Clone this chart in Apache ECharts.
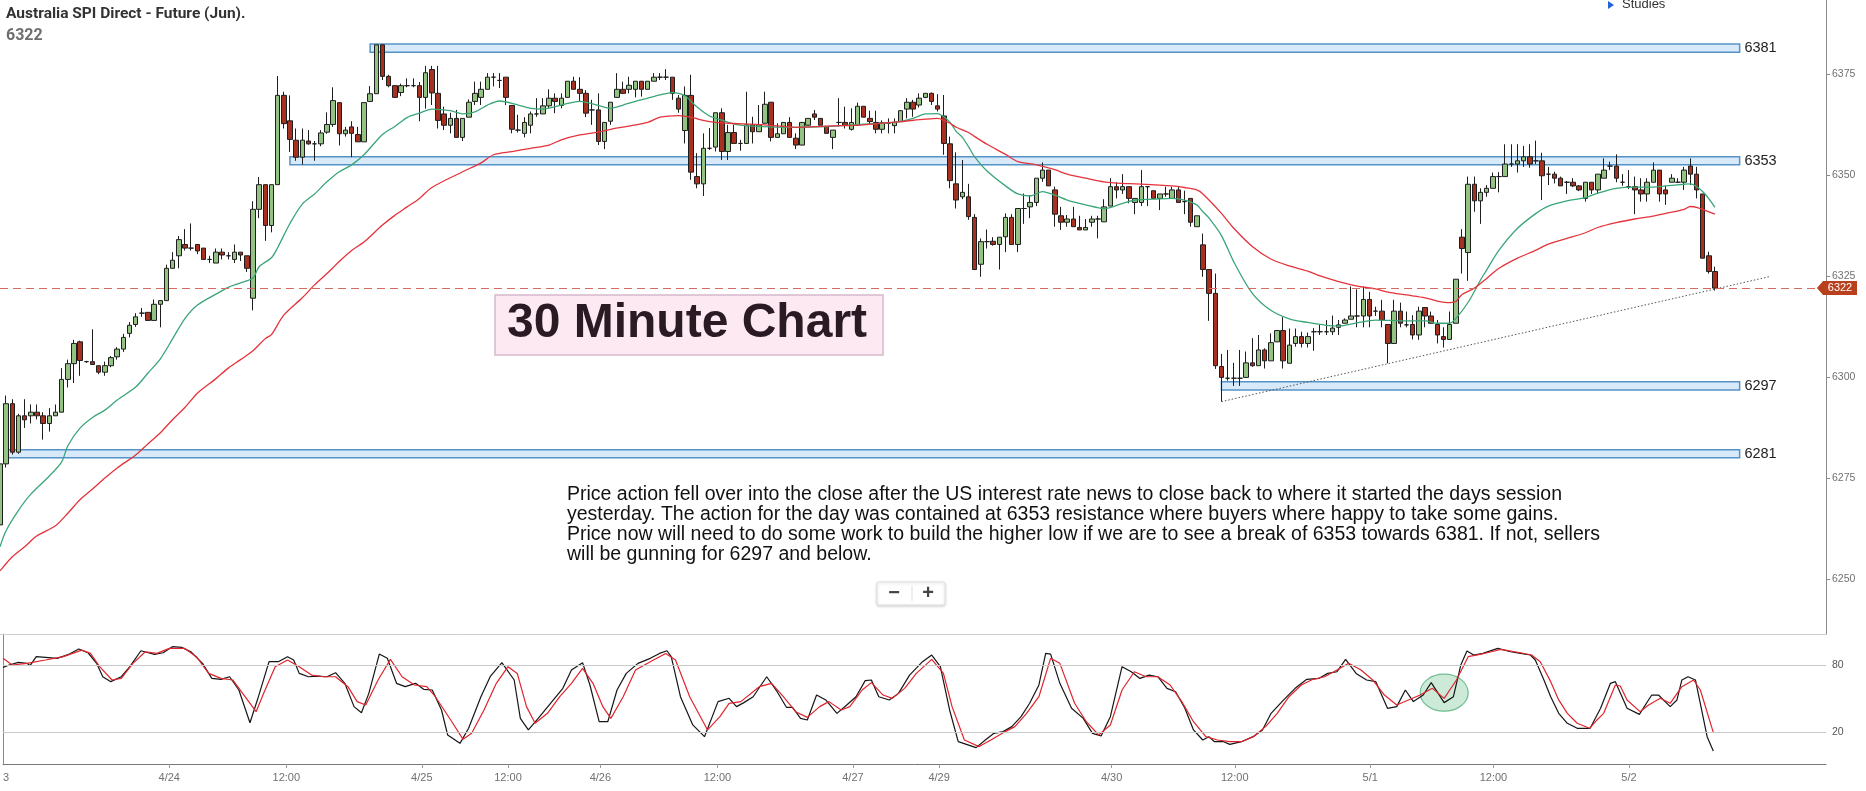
<!DOCTYPE html>
<html>
<head>
<meta charset="utf-8">
<title>Australia SPI Direct - Future (Jun) 30 Minute</title>
<script src="https://cdn.jsdelivr.net/npm/echarts@6.0.0/dist/echarts.min.js"></script>
<style>
  html, body { margin: 0; padding: 0; background: #fff; }
  #chart { width: 1866px; height: 791px; }
</style>
</head>
<body>
<div id="chart"></div>
<script>
// 30 分钟 K 线：[open, close, low, high]
const candles = [
  [6263.4,6278.5,6255.5,6281],[6278.5,6293.4,6277.6,6295.4],[6293.4,6281.4,6280.8,6294.5],[6281.4,6290.4,6281,6290.9],
  [6290.4,6289.4,6287.4,6294.5],[6290.4,6291.3,6288.5,6293.2],[6291.3,6290.4,6289.5,6293.2],[6290.4,6288.5,6284.5,6291.3],
  [6288.5,6290.4,6286.5,6292.3],[6290.4,6291.3,6290.4,6293.2],[6291.3,6299.4,6291.3,6302.2],[6299.4,6303.3,6297.4,6304.3],
  [6303.3,6308.3,6298.5,6309.2],[6308.7,6304.1,6300.3,6309],[6303.8,6303.8,6303.5,6304],[6303.8,6303.1,6303,6311.8],
  [6302.8,6301.2,6300.7,6302.8],[6301.2,6302.8,6300.3,6303.8],[6302.8,6304.8,6302.4,6305.2],[6305,6306.9,6304.3,6307.4],
  [6306.9,6309.8,6306.2,6310.7],[6310.8,6312.8,6309.8,6313.6],[6313,6314.9,6312.4,6315.8],[6315.8,6315.8,6314.9,6317.1],
  [6316,6314,6314,6316],[6314,6318,6314,6319.2],[6318,6318.9,6312.3,6318.9],[6318.9,6326.9,6318.9,6327.8],
  [6326.9,6328.9,6326.9,6330.9],[6330,6334,6326.9,6334.9],[6332.8,6331.9,6331.3,6336.6],[6331.9,6331.9,6331.3,6338],
  [6332.8,6331.2,6330.4,6332.8],[6331.9,6329.1,6329.1,6331.9],[6329.1,6329.1,6328.2,6330],[6328.2,6330.9,6328.2,6331.8],
  [6330.9,6330.2,6329.1,6331.8],[6330,6330,6329.1,6330.9],[6329.1,6330.9,6328.2,6332.8],[6330.9,6330.2,6328.7,6330.9],
  [6330,6326.9,6326,6330],[6319.5,6341.5,6316.5,6343.5],[6341.5,6347.6,6339.3,6349.5],[6347.6,6337.5,6333.7,6347.6],
  [6337.5,6347.6,6335.8,6347.6],[6347.6,6369.7,6347.6,6374.5],[6369.7,6362.7,6361.5,6370.6],[6363.4,6358.8,6355.7,6369.7],
  [6358.6,6354.4,6353.5,6361.5],[6354.4,6358.6,6352.6,6361.5],[6358.4,6357.7,6357.5,6361.1],[6357.7,6357.7,6353.5,6358.4],
  [6357.7,6360.4,6357.1,6361.1],[6360.6,6362.5,6360.2,6365.5],[6362.5,6368.4,6361.9,6371.7],[6367.9,6360.2,6357.3,6367.9],
  [6360.2,6361.1,6359.5,6361.9],[6361.9,6360.3,6354.4,6363.3],[6360,6358.2,6358.2,6361.9],[6358.2,6367.9,6358.2,6367.9],
  [6368.2,6370.1,6368.2,6372],[6370.1,6382.2,6370.1,6382.2],[6382.2,6374.4,6373.5,6382.2],[6374.4,6372.1,6371.7,6374.8],
  [6372.1,6369.2,6369.2,6372.1],[6370.4,6372.1,6369.5,6372.6],[6372.1,6372.1,6371.7,6373.9],[6372.1,6372.1,6371.7,6373.9],
  [6372.1,6369.2,6363.3,6373],[6369.2,6375.3,6366.4,6377],[6376.1,6370.3,6367.3,6377],[6370.2,6363.5,6361.5,6377],
  [6365.1,6362.3,6361.1,6366.9],[6362.3,6364,6360.3,6365.4],[6364,6359.3,6359.3,6366.1],[6359.3,6364,6358.4,6364],
  [6364.3,6368,6364.3,6368.7],[6368.2,6370.2,6367.3,6373.1],[6369.2,6371.2,6367.3,6373.1],[6371.2,6374.2,6371.2,6375.2],
  [6374.2,6374.2,6371.9,6375.2],[6373.4,6373.4,6371.5,6375.2],[6374.2,6369.2,6367.3,6374.2],[6367.2,6361.3,6360.3,6367.2],
  [6361.1,6361.1,6360.5,6364.9],[6360.3,6363,6359.3,6364.3],[6362.3,6365.1,6360.3,6365.7],[6365.1,6365.1,6364.4,6369],
  [6365.1,6367.1,6365.1,6369],[6367.1,6369,6366.5,6371.2],[6369,6368.2,6365.3,6370.2],[6367.2,6369,6366.5,6370.2],
  [6369.2,6373.2,6369.2,6373.2],[6373.2,6371.2,6371.2,6374.3],[6371.2,6370.2,6368.2,6374.2],[6370.2,6365.3,6364.3,6371],
  [6366.1,6366.1,6362.4,6368.6],[6366.1,6358.3,6357.4,6370.2],[6358.3,6363,6356.4,6363],[6363.3,6368,6362.4,6368],
  [6369.2,6371.2,6369.2,6375.2],[6371.2,6370.2,6370,6373.1],[6371.2,6372.2,6370.2,6374.3],[6371.2,6373.2,6369.2,6373.2],
  [6373.2,6371.2,6369.4,6373.2],[6371.2,6373.2,6371.2,6373.2],[6373.2,6374.2,6373.2,6375.2],[6374.2,6374.2,6373.5,6375.2],
  [6374.2,6374.2,6373.5,6376.2],[6374.2,6370.2,6368.6,6374.2],[6369,6366.3,6365.4,6369.8],[6361,6369.7,6357.8,6371.9],
  [6369.7,6350.7,6348.8,6374.8],[6349.6,6347.8,6346.7,6355.4],[6347.8,6356.6,6344.8,6360.3],[6356.6,6356.6,6356.2,6361.6],
  [6356.9,6365.4,6355.8,6365.4],[6365.4,6355.8,6353.7,6366.5],[6355.8,6360.5,6353.7,6362.4],[6360.5,6357.8,6357.8,6362.4],
  [6357.8,6357.8,6356,6358.7],[6357.8,6362.4,6357.8,6370.6],[6362.4,6360.7,6357.8,6364.4],[6360.7,6362.4,6360.7,6367.3],
  [6362.8,6367.5,6362.8,6370.6],[6368,6359.3,6358.3,6368],[6359.3,6360.2,6359.3,6362.8],[6360.2,6363,6360.2,6363],
  [6363,6359.3,6359.3,6364.3],[6359.1,6357.4,6356.4,6360.3],[6357.4,6363,6357.4,6363],[6362.3,6364,6362.3,6364],
  [6365.1,6364.3,6363.6,6366.1],[6364,6362.3,6362.3,6364],[6362,6360.3,6360.3,6362],[6359.3,6361.1,6356.4,6361.1],
  [6363,6363,6362,6369],[6363,6362.3,6361.5,6366.9],[6361.3,6363,6361,6366.5],[6362.3,6367,6362.3,6367.9],
  [6367,6364.3,6364.3,6367],[6364,6363.2,6362.5,6365.9],[6363,6361.3,6360.3,6365.9],[6361.3,6362.9,6360.3,6363.5],
  [6362.8,6362.8,6360.3,6364],[6362.2,6363,6360.3,6364],[6363.2,6365.9,6363.2,6366],[6366.3,6368,6364,6369],
  [6368,6366.3,6364.4,6368.6],[6367.3,6369,6366.7,6370.2],[6369.2,6370.2,6369,6370.2],[6370.2,6368.2,6367.3,6370.4],
  [6367.1,6366.3,6365.7,6370],[6364.6,6357.8,6355,6369.8],[6357.7,6348.6,6346.7,6359.5],[6347.8,6343.8,6341.7,6355.6],
  [6344.6,6345.7,6344,6353.7],[6344.6,6339.7,6338.9,6347.8],[6339.5,6326.6,6326.5,6340.3],[6327.9,6333.5,6324.8,6334.3],
  [6333.5,6333.5,6331.8,6336.5],[6333.6,6332.8,6332.5,6334.6],[6332.8,6334.6,6326.6,6334.6],[6334.7,6339.5,6330.9,6340.5],
  [6339.5,6332.8,6332.8,6340.3],[6332.8,6341.7,6330.9,6341.7],[6341.7,6341.7,6337.9,6345.4],[6342.1,6343.2,6339.3,6345],
  [6343.2,6349.2,6342.3,6349.2],[6349.2,6351.2,6348.3,6353.1],[6351.2,6347.3,6347.3,6351.2],[6346.3,6340.3,6337.2,6347.1],
  [6339.9,6338.3,6336.4,6342.1],[6338.3,6339.1,6337.2,6340.1],[6339.1,6337.2,6337.2,6342.1],[6337,6336.4,6336.4,6339.9],
  [6336.4,6337,6336.4,6339.1],[6338.3,6339.1,6337.2,6339.9],[6339.1,6339.1,6334.3,6339.9],[6338.4,6342.1,6338.4,6344],
  [6342.3,6347.1,6342.3,6349.2],[6347.1,6346.3,6344.2,6348.2],[6346.3,6347.1,6345.3,6350.2],[6347.1,6344.2,6343,6347.1],
  [6343.2,6344.2,6340.3,6344.2],[6343.2,6347.1,6342.3,6351.2],[6347.1,6347.1,6342.3,6347.1],[6346.1,6344.2,6344.2,6346.1],
  [6344.2,6345.3,6341.3,6345.3],[6345.3,6345.3,6344.6,6347.1],[6344.2,6346.3,6344.2,6347.1],[6346.3,6343.2,6343.2,6347.1],
  [6343.4,6343.4,6340.3,6346.1],[6344.2,6338.3,6337.2,6344.2],[6337.2,6339.9,6337.2,6339.9],[6332.7,6326.6,6324.8,6335.5],
  [6326.6,6320.7,6313.9,6326.6],[6320.7,6302.8,6302,6325.6],[6302.6,6299.9,6293.9,6305.7],[6299.7,6299.7,6299.1,6306.7],
  [6299.7,6299.7,6297.8,6303.5],[6299.7,6299.7,6297.8,6306.7],[6299.9,6303.5,6299.9,6306.3],[6303.5,6302.8,6302.5,6309.6],
  [6302.8,6306.7,6302.8,6310.4],[6306.7,6304,6302.1,6307.1],[6304,6308.5,6304,6310.8],[6308.7,6311.5,6308.7,6311.5],
  [6311.5,6304,6302.1,6314.8],[6303.4,6307.9,6303.4,6312],[6308.3,6310,6307.5,6312],[6310,6308.3,6307.3,6311.2],
  [6308.3,6310,6307.3,6311],[6311.2,6311.2,6306.5,6312.1],[6311.2,6311.2,6310.4,6312.9],[6311.2,6311.2,6310.4,6314.1],
  [6311.2,6312.1,6310.4,6315.2],[6312.3,6312.9,6310.4,6314.1],[6313.3,6314.1,6313.3,6314.5],[6314.3,6315.1,6314.3,6322.4],
  [6315.1,6315.1,6312.3,6321.7],[6315.1,6319.2,6312.3,6322.4],[6319.2,6315.1,6312.3,6321.1],[6316.3,6316.3,6315.1,6317.4],
  [6316.3,6314.1,6312.3,6319.1],[6313,6308.3,6303.4,6313],[6308.3,6316.3,6308.3,6319.1],[6316.3,6313.3,6312.3,6318.4],
  [6312.9,6312.9,6312.3,6316.2],[6313,6310.4,6309.3,6315.3],[6310.4,6316.3,6309.2,6317.4],[6317.2,6315.1,6312.3,6317.2],
  [6315.1,6313.3,6313.3,6316.2],[6313,6310.4,6308.3,6314.1],[6310,6309.3,6307.3,6312.3],[6309.3,6313,6309.3,6316.2],
  [6313.3,6324.2,6313.3,6324.2],[6334.6,6331.8,6325.6,6336.6],[6330.8,6347.7,6323.8,6349.6],[6347.7,6343.6,6340.9,6349.6],
  [6343.6,6345.7,6337.9,6346.7],[6345.7,6346.7,6344.6,6347.5],[6346.7,6349.6,6346.7,6350.6],[6349.6,6349.6,6345.7,6350.7],
  [6349.6,6352.7,6349.6,6357.6],[6352.7,6352.7,6352,6357.6],[6352.7,6353.5,6350.6,6357.6],[6353.5,6354.5,6352,6357.2],
  [6354.5,6352.7,6351.8,6357.6],[6353.5,6353.5,6352.7,6358.5],[6353.5,6349.8,6343.8,6355.5],[6350.2,6350.2,6347.5,6352],
  [6350.2,6349.2,6347.9,6350.8],[6349.2,6347.3,6347.3,6349.6],[6348.2,6348.2,6345.3,6348.5],[6348.2,6347.3,6347,6349.2],
  [6347.3,6346.3,6346,6347.5],[6344.2,6348.2,6343.4,6348.2],[6348.2,6346.3,6345.3,6348.2],[6346.3,6350.2,6345.3,6350.2],
  [6349.2,6351.2,6349.2,6354.1],[6352.2,6352.2,6351.2,6353.3],[6352.2,6349.2,6348.2,6355.1],[6348.2,6348.2,6347.3,6350.2],
  [6347.1,6347.1,6346.5,6351.2],[6347.1,6346.3,6340.3,6349.6],[6346.3,6345.3,6343.4,6349.2],[6345.3,6348.2,6343.4,6349.2],
  [6348.2,6351.2,6348.2,6353.1],[6351.2,6345.3,6343.4,6351.2],[6346.3,6345.3,6342.6,6347.3],[6348.2,6349.2,6348.2,6350.2],
  [6348.2,6348.2,6348,6349.2],[6348.2,6351.2,6346.3,6352],[6352.2,6350.2,6347.5,6354.1],[6350.2,6346.3,6344.2,6352],
  [6345.3,6329.4,6329.4,6345.3],[6330,6326.1,6325.6,6331],[6326.1,6322,6321.4,6327.3]
];

// 均线（绿：短期，红：长期）[bar, value]
const fastMa = [
  [0,6258],[1,6262],[3,6267],[5,6271],[8,6275.5],[10,6279],[11,6283],[13,6287.4],[15,6290],[17,6291.8],[19,6294.3],
  [22,6297.5],[24,6301],[26,6304.5],[28,6309.5],[30,6314.5],[32,6317.8],[35,6320.5],[37,6322.2],[39,6323.3],[41,6324.5],
  [42,6327.3],[44,6329.5],[45,6332],[47,6338],[49,6342.8],[51,6345.3],[53,6348.3],[55,6350.8],[57,6352.5],[59,6355],
  [62,6360],[64,6362],[66,6364.2],[68,6365.3],[70,6366.3],[73,6365.9],[75,6365.1],[77,6365.6],[79,6367.3],[81,6368.3],
  [84,6367.3],[86,6366.5],[88,6366.3],[90,6366.9],[92,6367.7],[94,6368.2],[97,6367.2],[99,6366.5],[101,6367.3],
  [103,6368.2],[105,6369],[107,6369.8],[109,6370.4],[111,6369.6],[113,6366.8],[115,6364.6],[117,6363.6],[119,6362.6],
  [122,6362.1],[129,6361.8],[134,6362],[140,6362.6],[145,6363],[148,6364],[150,6365.1],[152,6365.2],[153,6364.4],
  [154,6363],[155,6360.8],[156,6359.3],[157,6357],[158,6354.5],[160,6351],[163,6347.3],[165,6345.3],[167,6344.8],
  [169,6345.9],[171,6345],[173,6343.8],[176,6342.6],[179,6341.7],[182,6343],[184,6343.8],[187,6344],[190,6344.2],
  [192,6343.8],[194,6342.6],[195,6340.9],[196,6339.3],[198,6335],[200,6328.5],[203,6320.7],[206,6316.5],[209,6314.4],
  [212,6313.5],[215,6312.8],[217,6312.6],[220,6313.4],[223,6314.1],[228,6313.9],[231,6313.9],[233,6313.3],[235,6313.3],
  [236,6314.5],[238,6318.5],[240,6324],[241,6326.5],[243,6331.4],[246,6336.8],[249,6340.5],[251,6342.3],[254,6343.6],
  [257,6344.4],[259,6345.5],[262,6346.7],[265,6347],[268,6347],[270,6347.3],[273,6347.7],[274,6347.8],[276,6345.9],[278,6342]
];
const slowMa = [
  [0,6252],[2,6255.5],[4,6258],[6,6260.7],[9,6263.2],[11,6266.3],[13,6269.7],[15,6272.3],[17,6275],[19,6277.5],
  [22,6280.7],[24,6283.5],[26,6286.2],[28,6289.5],[30,6292.5],[32,6296],[35,6299.6],[37,6302.2],[39,6304.3],[41,6306.5],
  [43,6309.5],[44,6310.5],[46,6315.3],[49,6319.6],[51,6322.8],[53,6325.6],[55,6328.6],[57,6331.3],[59,6333.4],
  [62,6337.6],[64,6340],[66,6342.1],[68,6344.2],[70,6346.9],[75,6350.8],[78,6353],[80,6355],[83,6355.8],[86,6356.6],
  [89,6357.4],[91,6358.7],[94,6359.9],[97,6360.6],[99,6361.3],[102,6362.1],[105,6363],[107,6364.3],[110,6364.7],
  [112,6364.3],[114,6363.5],[116,6363],[118,6362.8],[124,6362.4],[129,6361.8],[134,6362.1],[140,6362.4],[146,6363.2],
  [150,6363.8],[152,6364],[153,6363.5],[154,6362.8],[155,6361.8],[157,6360.5],[158,6359.5],[160,6357.6],[163,6355.1],
  [165,6353.3],[168,6352.5],[171,6351.3],[173,6350.2],[176,6349.2],[179,6348.3],[182,6347.9],[184,6347.8],[190,6347.3],
  [192,6346.9],[194,6346.3],[195,6345.3],[198,6340.5],[200,6336.8],[203,6332.3],[206,6329.2],[209,6327.5],[212,6326.2],
  [214,6325],[217,6323.6],[220,6322.5],[223,6321.8],[225,6321],[228,6320.3],[231,6319.6],[233,6318.8],[235,6318.4],
  [236,6318.7],[237,6320.4],[239,6322],[241,6324.4],[243,6326.9],[246,6329.4],[249,6331.4],[251,6332.9],[254,6334.3],
  [257,6335.7],[259,6337],[262,6338.2],[265,6339.1],[268,6339.8],[270,6340.5],[273,6341.5],[274,6342.2],[275,6342],[278,6340.3]
];

// 随机指标 %K（黑）与 %D（红）[bar, value]
const stochK = [
  [0,77.9],[1,80],[2.5,82.4],[3.9,81.5],[4.4,79.4],[5.4,87.5],[6.9,86.9],[8.8,86],[10.8,89.8],[12.3,94.3],[13.8,91],
  [15.2,81.5],[16.2,69.5],[17.5,65.1],[19.2,69.5],[20.6,78.5],[22.4,92.8],[23.6,91],[24.6,89.5],[26,91],[27.5,96.4],
  [29,95.8],[30.5,91.9],[32.4,81.5],[33.9,68],[35.4,67.2],[36.8,69.5],[38.3,57.6],[40.1,28.3],[41.3,48.6],[43.2,83],
  [44.7,83],[46.2,87.5],[47.2,84.5],[48.1,72.5],[49.6,69.5],[51.1,70.1],[52.6,69.5],[54,73.1],[55.5,63.6],[57,42.7],
  [58.2,37.3],[59.4,54.6],[61.1,89.8],[62.4,86],[63.9,63.6],[65.3,60.6],[67,63.6],[68.3,58.2],[69.7,57.6],[71.2,39.7],
  [72.2,17.3],[74.2,9.8],[75.6,23.3],[77.6,51.6],[79.1,69.5],[81,82.1],[83,66.6],[84,32.2],[85.3,21.8],[86.9,32.2],
  [88.9,45.7],[90.9,59.1],[92.3,75.5],[94.1,82.1],[95.3,62.1],[96.8,29.2],[98.2,29.2],[99.7,57.6],[101.2,72.5],
  [103.1,81.5],[105.1,86],[106.6,90.4],[107.8,92.8],[108.5,87.5],[110,51.6],[112,26.3],[113.9,15.8],[116.1,47.2],
  [117.9,50.2],[119.1,42.7],[120.3,46.3],[121.8,51.6],[124,69.5],[125.7,56.1],[127.2,42.1],[128.2,42.1],[129.5,32.2],
  [130.6,30.7],[132.1,53.1],[133.6,48.7],[135.4,36.7],[137,44.2],[138.5,51.6],[140,66],[141,66.6],[142.2,51.6],
  [143.9,48.7],[145.4,54.6],[147.2,71],[149.3,83],[150.8,88.9],[152.2,78.5],[153.7,39.7],[155.1,11.3],[158,6],
  [159.5,12.8],[160.9,18.8],[162.4,20.3],[163.8,24.8],[165.3,33.7],[166.7,45.7],[168.2,62.1],[169.3,90.4],[170.1,89.8],
  [171.6,63.6],[173.5,41.2],[175.4,32.2],[176.9,18.8],[178.3,16.4],[179.8,33.7],[181.7,78.5],[183.2,74],[184.6,68],
  [186.1,71],[187.5,69.5],[189,59.1],[190.4,56.1],[191.9,41.2],[193.3,21.8],[194.8,12.8],[195.8,15.8],[196.7,11.3],
  [198.2,11.3],[199.2,8.9],[201.1,11.3],[203,15.8],[204.5,21.8],[205.9,36.7],[207.9,48.6],[209.8,59.1],[211.7,67.2],
  [213.7,68.1],[215.1,72.5],[216.6,74],[218,85.1],[219.7,72.5],[221.4,66.6],[222.9,65.1],[224.8,41.2],[226.3,42.7],
  [227.7,57.6],[229,47.2],[230.6,53.1],[231.9,64.2],[234,46.3],[235.5,51.6],[236.7,80],[237.7,92.5],[238.8,88.9],
  [240.3,90.4],[242.7,94.9],[244.8,91.9],[246.4,90.4],[248,89],[248.8,84.5],[250.2,66.6],[251.3,51.6],[252.6,36.7],
  [254,27.8],[255.6,23.3],[257.7,23.3],[259.4,41.2],[261,63.6],[261.8,65.1],[263.7,41.2],[265.7,35.8],[267.7,53.1],
  [268.8,53.1],[270.7,42.7],[271.8,48.7],[272.6,66.6],[273.6,69.5],[274.8,66.6],[276.7,15.8],[277.7,3]
];
const stochD = [
  [0,86],[1.5,80],[3.9,81.5],[6.9,84.5],[9.8,87.5],[12.8,93.4],[14.2,90.4],[15.7,78.5],[17.7,66.6],[19.2,68],
  [21.1,81.5],[23.1,91.9],[25,90.4],[27,94.9],[29.5,94.9],[31.4,87.5],[33.4,72.5],[35.4,68],[37.3,66.6],[39.3,51.6],
  [41.1,38.2],[42.2,53.1],[44.2,78.5],[46.2,84.5],[48.1,78.5],[50.1,71],[52.1,69.5],[54,69.5],[56,60.6],[57.5,47.2],
  [58.9,44.2],[60.9,66.6],[62.9,85.1],[64.8,69.5],[66.8,62.1],[68.8,60.6],[70.2,51.6],[72.7,30.7],[74.7,13.4],
  [76.1,18.8],[78.1,39.7],[80.1,63.6],[82,78.5],[83.5,72.5],[85,42.7],[86.4,27.8],[88.4,36.7],[90.4,51.6],[92.3,63.6],
  [94.1,77],[95.8,63.6],[97.4,42.7],[98.7,32.2],[100.7,51.6],[102.7,75.5],[105.1,83],[107.6,90.4],[109.2,84.5],
  [111.5,51.6],[114.4,21.8],[116.4,33.7],[117.9,45.7],[119.8,47.2],[122.8,60.6],[124.8,63.6],[126.7,51.6],[128.7,38.2],
  [130.6,33.1],[132.6,42.7],[134.1,47.2],[136.1,39.7],[137.5,42.7],[139.5,57.6],[141,64.2],[142.9,53.1],[144.4,50.1],
  [146.4,59.1],[148.3,72.5],[150.8,85.1],[152.7,72.5],[154.1,42.7],[156.1,12.8],[158.5,6.9],[160.4,12.8],[162.4,19.4],
  [164.3,24.8],[166.2,36.7],[168.2,51.6],[170.1,86],[171.6,81.5],[174,45.7],[175.9,29.2],[177.9,17.3],[179.8,26.3],
  [181.7,57.6],[183.7,74],[185.6,69.5],[187.5,69.5],[189.5,62.1],[191.4,47.2],[193.3,29.2],[195.3,15.8],[197.2,12.8],
  [199.2,11.3],[201.1,11.3],[203,15.8],[205,24.8],[206.9,36.7],[208.8,51.6],[210.8,62.1],[212.7,67.2],[214.6,69.5],
  [216.6,75.5],[218.5,81.5],[220.5,75.5],[222.4,66.6],[224.3,53.1],[226.3,44.2],[228.2,48.7],[230.1,53.1],[232.1,59.1],
  [234,50.1],[236,66.6],[237.9,87.5],[239.8,89.5],[241.7,91.9],[243.2,94],[246.4,91],[248.2,89],[249.6,83],[251.3,65.1],
  [252.6,48.7],[254,36.7],[255.6,27.8],[257.6,23.3],[258.8,30.7],[259.9,36.7],[261.8,62.1],[262.6,61.2],[263.7,48.7],
  [265.8,38.2],[267.2,44.2],[269.1,50.2],[270.7,45.7],[272.6,60.6],[274.5,66.6],[275.6,57.6],[277.7,19.7]
];

// 支撑 / 阻力区：[价格, 标签, 起始K线]
const zones = [
  [6381.4, '6381', 60],
  [6353.5, '6353', 47],
  [6297.8, '6297', 198],
  [6281, '6281', 1]
];
const zoneEnd = 282;

// 趋势线两端 [bar, price]
const trendLine = [[198, 6293.9], [287, 6324.9]];
const lastPrice = 6322;

// 时间轴标签 [bar, text]
const xTickLabels = [
  [0, '3'], [27, '4/24'], [46, '12:00'], [68, '4/25'], [82, '12:00'], [97, '4/26'], [116, '12:00'],
  [138, '4/27'], [152, '4/29'], [180, '4/30'], [200, '12:00'], [222, '5/1'], [242, '12:00'], [264, '5/2']
];
const priceTicks = [6250, 6275, 6300, 6325, 6350, 6375];
const stochTicks = [20, 80];

const commentary = [
  'Price action fell over into the close after the US interest rate news to close back to where it started the days session',
  'yesterday. The action for the day was contained at 6353 resistance where buyers where happy to take some gains.',
  'Price now will need to do some work to build the higher low if we are to see a break of 6353 towards 6381. If not, sellers',
  'will be gunning for 6297 and below.'
];

const SLOT_COUNT = 297;
const slots = Array.from({ length: SLOT_COUNT }, (_, i) => String(i));
const tickText = {};
xTickLabels.forEach(([i, t]) => { tickText[i] = t; });

const colors = {
  up: '#93c283',
  down: '#a8301f',
  edge: '#1e1e1e',
  fast: '#3aa678',
  slow: '#e5333c',
  zoneFill: '#d8e9fa',
  zoneEdge: '#5593c6',
  axis: '#8a8a8a',
  label: '#707070'
};
const FONT = '"Liberation Sans", Arial, sans-serif';

const chart = echarts.init(document.getElementById('chart'));

const option = {
  animation: false,
  backgroundColor: '#fff',
  grid: [
    { left: 0, right: 40, top: 0, height: 634 },
    { left: 0, right: 40, top: 634, height: 130 }
  ],
  xAxis: [
    {
      type: 'category', gridIndex: 0, data: slots, boundaryGap: false,
      axisLine: { lineStyle: { color: '#cfcfcf' } },
      axisTick: { show: false }, axisLabel: { show: false }, splitLine: { show: false }
    },
    {
      type: 'value', gridIndex: 1, min: 0, max: SLOT_COUNT - 1,
      axisLine: { show: true, onZero: false, lineStyle: { color: '#777' } },
      splitLine: { show: false },
      axisTick: {
        show: true, length: 4, lineStyle: { color: '#999' },
        customValues: xTickLabels.filter(d => d[0] > 0).map(d => d[0])
      },
      axisLabel: {
        customValues: xTickLabels.map(d => d[0]),
        formatter: v => tickText[v] || '',
        color: colors.label, fontSize: 11, fontFamily: FONT, margin: 8,
        alignMinLabel: 'left'
      }
    }
  ],
  yAxis: [
    {
      type: 'value', gridIndex: 0, position: 'right', min: 6236.4, max: 6393.3,
      axisLine: { show: true, lineStyle: { color: colors.axis } },
      axisTick: { show: true, length: 4, lineStyle: { color: colors.axis }, customValues: priceTicks },
      axisLabel: {
        customValues: priceTicks, formatter: v => String(v),
        color: colors.label, fontSize: 10.5, fontFamily: FONT, margin: 6
      },
      splitLine: { show: false }
    },
    {
      type: 'value', gridIndex: 1, position: 'right', min: -8.7, max: 107.8,
      axisLine: { show: true, lineStyle: { color: colors.axis } },
      axisTick: { show: true, length: 4, lineStyle: { color: colors.axis }, customValues: stochTicks },
      axisLabel: {
        customValues: stochTicks, formatter: v => String(v),
        color: '#555', fontSize: 10.5, fontFamily: FONT, margin: 6
      },
      splitLine: { show: false }
    }
  ],
  series: [
    {
      name: 'SPI', type: 'candlestick', xAxisIndex: 0, yAxisIndex: 0,
      data: candles, barWidth: 5, clip: true,
      itemStyle: {
        color: colors.up, color0: colors.down,
        borderColor: colors.edge, borderColor0: colors.edge, borderColorDoji: colors.edge,
        borderWidth: 1
      },
      markArea: {
        silent: true,
        itemStyle: { color: colors.zoneFill, borderColor: colors.zoneEdge, borderWidth: 1.5 },
        label: {
          show: true, position: 'right', distance: 4,
          color: '#222', fontSize: 14.5, fontFamily: '"Liberation Sans Narrow", "Liberation Sans", sans-serif'
        },
        data: zones.map(([level, text, start]) => [
          { xAxis: start, yAxis: level - 1, name: text },
          { xAxis: zoneEnd, yAxis: level + 1 }
        ])
      },
      markLine: {
        silent: true, symbol: 'none',
        label: { show: false },
        lineStyle: { color: '#d46a60', type: [8, 5], width: 1 },
        data: [{ yAxis: lastPrice }]
      }
    },
    {
      name: 'fast', type: 'line', xAxisIndex: 0, yAxisIndex: 0, data: fastMa,
      smooth: 0.3, symbol: 'none', lineStyle: { color: colors.fast, width: 1.3 }
    },
    {
      name: 'slow', type: 'line', xAxisIndex: 0, yAxisIndex: 0, data: slowMa,
      smooth: 0.3, symbol: 'none', lineStyle: { color: colors.slow, width: 1.3 }
    },
    {
      name: 'trend', type: 'line', xAxisIndex: 0, yAxisIndex: 0, data: trendLine,
      symbol: 'none', lineStyle: { color: '#555', width: 1, type: [1.5, 2] }
    },
    {
      name: '%K', type: 'line', xAxisIndex: 1, yAxisIndex: 1, data: stochK,
      symbol: 'none', lineStyle: { color: '#151515', width: 1.2 },
      markLine: {
        silent: true, symbol: 'none', label: { show: false },
        lineStyle: { color: '#c9c9c9', type: 'solid', width: 1 },
        data: stochTicks.map(v => ({ yAxis: v }))
      }
    },
    {
      name: '%D', type: 'line', xAxisIndex: 1, yAxisIndex: 1, data: stochD,
      symbol: 'none', lineStyle: { color: '#e0242c', width: 1.2 }
    }
  ]
};

chart.setOption(option);

// 价格标签、标注椭圆等依赖坐标换算
const tagY = chart.convertToPixel({ yAxisIndex: 0 }, lastPrice);
const ring = chart.convertToPixel({ xAxisIndex: 1, yAxisIndex: 1 }, [234, 55.2]);

chart.setOption({
  graphic: [
    {
      type: 'text', left: 6, top: 6,
      style: { text: 'Australia SPI Direct - Future (Jun).', fontSize: 15.5, fontWeight: 'bold', fontFamily: 'Roboto', fill: '#333' }
    },
    {
      type: 'text', left: 6, top: 28,
      style: { text: String(lastPrice), fontSize: 16, fontWeight: 'bold', fontFamily: 'Roboto', fill: '#6e6e6e' }
    },
    {
      type: 'polygon',
      shape: { points: [[1817, tagY], [1823, tagY - 7], [1857, tagY - 7], [1857, tagY + 7], [1823, tagY + 7]] },
      style: { fill: '#b8401c' }, z: 10
    },
    {
      type: 'text', x: 1840, y: tagY, z: 11,
      style: { text: String(lastPrice), fill: '#fff', fontSize: 11, fontFamily: FONT, align: 'center', verticalAlign: 'middle' }
    },
    {
      type: 'ellipse',
      shape: { cx: ring[0], cy: ring[1], rx: 24, ry: 18.5 },
      style: { fill: 'rgba(120,200,150,0.38)', stroke: '#6dbd8f', lineWidth: 1.2 }
    },
    {
      type: 'rect', shape: { x: 495, y: 295, width: 388, height: 60 },
      style: { fill: '#fde9f1', stroke: '#d3b9cb', lineWidth: 1.5 }, z: 20
    },
    {
      type: 'text', x: 507, y: 323.5, z: 21,
      style: { text: '30 Minute Chart', fontSize: 48, fontWeight: 'bold', fontFamily: FONT, fill: '#2a1a24', verticalAlign: 'middle' }
    },
    {
      type: 'text', x: 567, y: 485, z: 21,
      style: { text: commentary.join('\n'), fontSize: 19.5, lineHeight: 20, fontFamily: FONT, fill: '#111' }
    },
    {
      type: 'group', x: 877, y: 582, z: 21,
      children: [
        { type: 'rect', shape: { x: 0, y: 0, width: 68, height: 23, r: 2 },
          style: { fill: '#fff', stroke: '#e2e2e2', lineWidth: 1, shadowBlur: 3, shadowOffsetY: 1, shadowColor: 'rgba(0,0,0,0.18)' } },
        { type: 'line', shape: { x1: 35, y1: 4, x2: 35, y2: 19 }, style: { stroke: '#ddd', lineWidth: 1 } },
        { type: 'text', x: 17, y: 11.5, style: { text: '−', fontSize: 20, fontWeight: 'bold', fontFamily: FONT, fill: '#444', align: 'center', verticalAlign: 'middle' } },
        { type: 'text', x: 51, y: 11.5, style: { text: '+', fontSize: 20, fontWeight: 'bold', fontFamily: FONT, fill: '#444', align: 'center', verticalAlign: 'middle' } }
      ]
    },
    {
      type: 'polygon', shape: { points: [[1608, 1], [1614, 5], [1608, 9]] }, style: { fill: '#2463d8' }
    },
    {
      type: 'text', x: 1622, y: 4,
      style: { text: 'Studies', fontSize: 13, fontFamily: FONT, fill: '#333', verticalAlign: 'middle' }
    }
  ]
});

window.addEventListener('resize', () => chart.resize());
</script>
</body>
</html>
